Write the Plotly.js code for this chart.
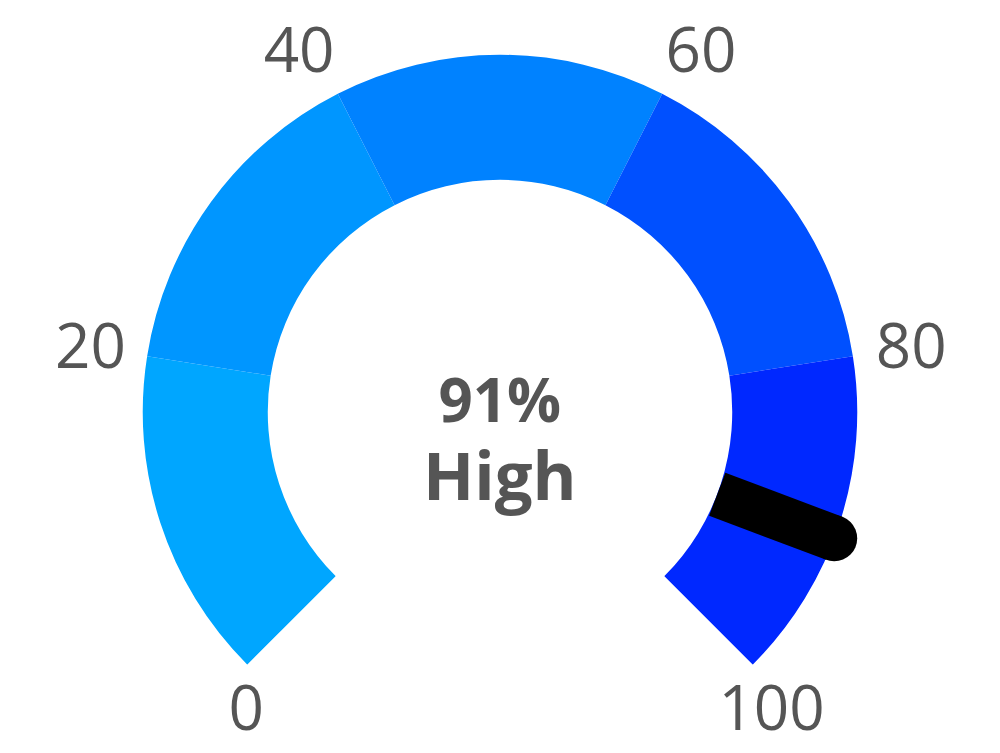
<!DOCTYPE html>
<html>
<head>
<meta charset="utf-8">
<script src="https://cdn.plot.ly/plotly-3.0.1.min.js"></script>
<style>
  html, body { margin: 0; padding: 0; background: #fff; }
  #gauge { width: 1000px; height: 753px; }
</style>
</head>
<body>
<div id="gauge"></div>
<script>
// gauge bands (in percent)
var bandStarts = [0, 20, 40, 60, 80];
var bandEnds = [20, 40, 60, 80, 100];
var bandColors = ['#00A6FF', '#0096FF', '#0082FF', '#0050FF', '#0028FF'];

// scale labels
var tickValues = [0, 20, 40, 60, 80, 100];
var tickLabels = ['0', '20', '40', '60', '80', '100'];

var needleValue = 91;
var valueText = '91%';
var levelText = 'High';

var SWEEP = 270;   // degrees spanned by 0..100
var HOLE = 0.65;   // inner radius of the ring
var RMAX = 1.1;    // room outside the ring for the labels
// where each scale label sits around its tick point
var labelSides = ['bottom right', 'middle left', 'top left', 'top right', 'middle right', 'bottom center'];
var labelRadius = [1.075, 1.06, 1.02, 1.02, 1.065, 1.075];

function toDeg(v) { return v / 100 * SWEEP; }

var bands = {
  type: 'barpolar',
  r: bandStarts.map(function () { return 1 - HOLE; }),
  base: bandStarts.map(function () { return HOLE; }),
  theta: bandStarts.map(function (s, i) { return toDeg((s + bandEnds[i]) / 2); }),
  width: bandStarts.map(function (s, i) { return toDeg(bandEnds[i] - s); }),
  marker: { color: bandColors, line: { width: 0 } },
  hoverinfo: 'skip'
};

var needle = {
  type: 'scatterpolar',
  mode: 'lines',
  r: [HOLE, 1],
  theta: [toDeg(needleValue), toDeg(needleValue)],
  line: { color: '#000', width: 46 },
  hoverinfo: 'skip'
};

var needleTip = {
  type: 'scatterpolar',
  mode: 'markers',
  r: [1],
  theta: [toDeg(needleValue)],
  marker: { color: '#000', size: 46, line: { width: 0 } },
  cliponaxis: false,
  hoverinfo: 'skip'
};

var scaleText = {
  type: 'scatterpolar',
  mode: 'text',
  r: labelRadius,
  theta: tickValues.map(toDeg),
  text: tickLabels,
  textposition: labelSides,
  textfont: { family: 'Open Sans', size: 62, color: '#555555' },
  cliponaxis: false,
  hoverinfo: 'skip'
};

var layout = {
  width: 1000,
  height: 753,
  margin: { l: 107, r: 107, t: 19, b: 63 },
  paper_bgcolor: '#fff',
  showlegend: false,
  hovermode: false,
  polar: {
    sector: [-45, 225],
    hole: 0,
    bgcolor: 'rgba(0,0,0,0)',
    domain: { x: [0, 1], y: [0, 1] },
    radialaxis: { visible: false, range: [0, RMAX] },
    angularaxis: { visible: false, rotation: 225, direction: 'clockwise' }
  },
  annotations: [{
    xref: 'paper', yref: 'paper',
    x: 0.5, y: 0.374,
    xanchor: 'center', yanchor: 'middle',
    showarrow: false,
    align: 'center',
    text: '<b>' + valueText + '</b><br><b><span style="font-size:67px">' + levelText + '</span></b>',
    font: { family: 'Open Sans', size: 60, color: '#555555' }
  }]
};

Plotly.newPlot('gauge', [bands, needle, needleTip, scaleText], layout, { displayModeBar: false, staticPlot: true });
</script>
</body>
</html>
